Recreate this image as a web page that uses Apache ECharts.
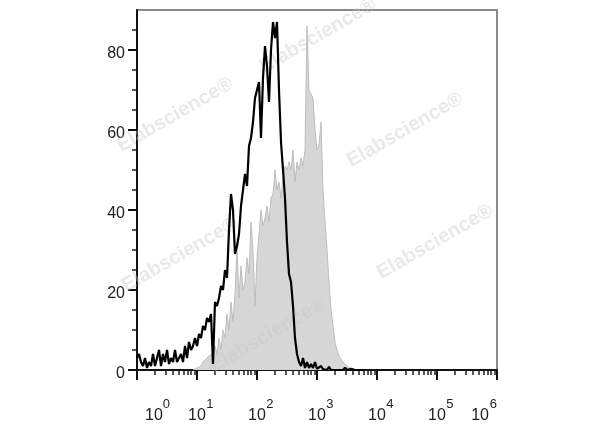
<!DOCTYPE html>
<html>
<head>
<meta charset="utf-8">
<script src="https://cdn.jsdelivr.net/npm/echarts@6/dist/echarts.min.js"></script>
<style>html,body{margin:0;padding:0;background:#fff}#c{width:600px;height:427px}</style>
</head>
<body>
<div id="c"></div>
<script>
// Histogram bins: log10 position = binStart + index * binStep
var binStart = 0;
var binStep = 1 / 30;
// Black (control) histogram, counts per bin starting at 10^0
var blackCounts = [3,4,2,1,3,0.5,2,1,4,1,3,5,1,4,2,5,1.5,3,2,5,2,3,4,2,6,3,7,5,6,8,
  6,9,8,11,10,13,12,14,1.5,17,16,18,21,20,25,23,35,44,40,29,31,34,41,45,49,46,56,58,62,68,
  70,72,58,73,81,76,67,80,87,83,87,70,57,50,43,32,24,22,16,8,4,2,1,3,0.5,2,0.5,1.5,0.5,2,
  0.3,0.5,1,0.2,0.5,0,0.8,0,0.3,0,0.5,0,0.2,0,0.6,0,0,0.3,0,0,0.5,0,0,0];
// Gray (stained) histogram, starts at bin 28
var grayStartBin = 28;
var grayCounts = [0,0.5,0.5,1,1,2,1.5,3,2.5,4,3,6,4,8,5,10,8,14,10,17,12,19,30,18,26,20,22,28,24,37,
  30,16,28,34,40,36,38,41,37,43,44,50,45,47,43,48,51,50,52,50,55,47,52,50,53,51,55,86,70,69,
  68,60,55,56,62,45,37,30,22,15,11,7,5,3.5,3,2,1.5,1,0.5,0.3,0];
var yTicks = [0,20,40,60,80];
var xDecades = [0,1,2,3,4,5,6];
var watermark = 'Elabscience®';

function toPoints(counts, startBin) {
  return counts.map(function (v, i) { return [binStart + (startBin + i) * binStep, v]; });
}
var minorX = [];
xDecades.forEach(function (d) {
  if (d < 6) for (var k = 2; k <= 9; k++) minorX.push(d + Math.log10(k));
});
var minorY = [];
for (var y = 5; y <= 85; y += 5) if (y % 20 !== 0) minorY.push(y);

var chart = echarts.init(document.getElementById('c'), null, {renderer: 'canvas'});
var wmStyle = {fill: 'rgba(200,200,200,0.4)', fontSize: 20, fontWeight: 'bold', fontFamily: 'Liberation Sans, Arial, sans-serif', text: watermark, align: 'center', verticalAlign: 'middle'};
var wmPos = [[175,115],[318,36],[405,130],[435,242],[180,255],[268,335]];
chart.setOption({
  animation: false,
  grid: {left: 137, right: 103, top: 10, bottom: 57, show: true, borderColor: '#8a8a8a', borderWidth: 2, backgroundColor: 'transparent'},
  xAxis: [{
    type: 'value', min: 0, max: 6, interval: 1,
    axisLine: {show: true, lineStyle: {color: '#111', width: 2}},
    axisTick: {show: true, length: 10, lineStyle: {color: '#111', width: 2}},
    splitLine: {show: false},
    axisLabel: {
      margin: 28, alignMinLabel: 'left', alignMaxLabel: 'right',
      formatter: function (v) { return '{p|}{b|10}{s|' + v + '}'; },
      rich: {
        p: {width: 8},
        b: {fontSize: 16, color: '#222', fontFamily: 'Liberation Sans, Arial, sans-serif', verticalAlign: 'bottom', lineHeight: 26},
        s: {fontSize: 13, width: 8, color: '#222', fontFamily: 'Liberation Sans, Arial, sans-serif', verticalAlign: 'top', lineHeight: 12}
      }
    }
  }, {
    type: 'value', min: 0, max: 6, position: 'bottom',
    axisLine: {show: false}, splitLine: {show: false}, axisLabel: {show: false},
    axisTick: {show: true, length: 5, customValues: minorX, lineStyle: {color: '#222', width: 1.5}}
  }],
  yAxis: [{
    type: 'value', min: 0, max: 90, interval: 20,
    axisLine: {show: true, lineStyle: {color: '#111', width: 2}},
    axisTick: {show: true, length: 9, customValues: yTicks, lineStyle: {color: '#111', width: 2}},
    splitLine: {show: false},
    axisLabel: {customValues: yTicks, margin: 12, fontSize: 16, color: '#222', fontFamily: 'Liberation Sans, Arial, sans-serif', verticalAlign: 'top', lineHeight: 8}
  }, {
    type: 'value', min: 0, max: 90, position: 'left',
    axisLine: {show: false}, splitLine: {show: false}, axisLabel: {show: false},
    axisTick: {show: true, length: 5, customValues: minorY, lineStyle: {color: '#222', width: 1.5}}
  }],
  graphic: wmPos.map(function (p) {
    return {type: 'text', x: p[0], y: p[1], rotation: Math.PI / 6, z: 3, silent: true, style: wmStyle};
  }),
  series: [{
    type: 'line', xAxisIndex: 0, yAxisIndex: 0, data: toPoints(grayCounts, grayStartBin),
    showSymbol: false, symbol: 'none', z: 2,
    lineStyle: {color: '#bdbdbd', width: 1},
    areaStyle: {color: '#d6d6d6', opacity: 1}
  }, {
    type: 'line', xAxisIndex: 0, yAxisIndex: 0, data: toPoints(blackCounts, 0),
    showSymbol: false, symbol: 'none', z: 5,
    lineStyle: {color: '#000', width: 2.2}
  }]
});
</script>
</body>
</html>
